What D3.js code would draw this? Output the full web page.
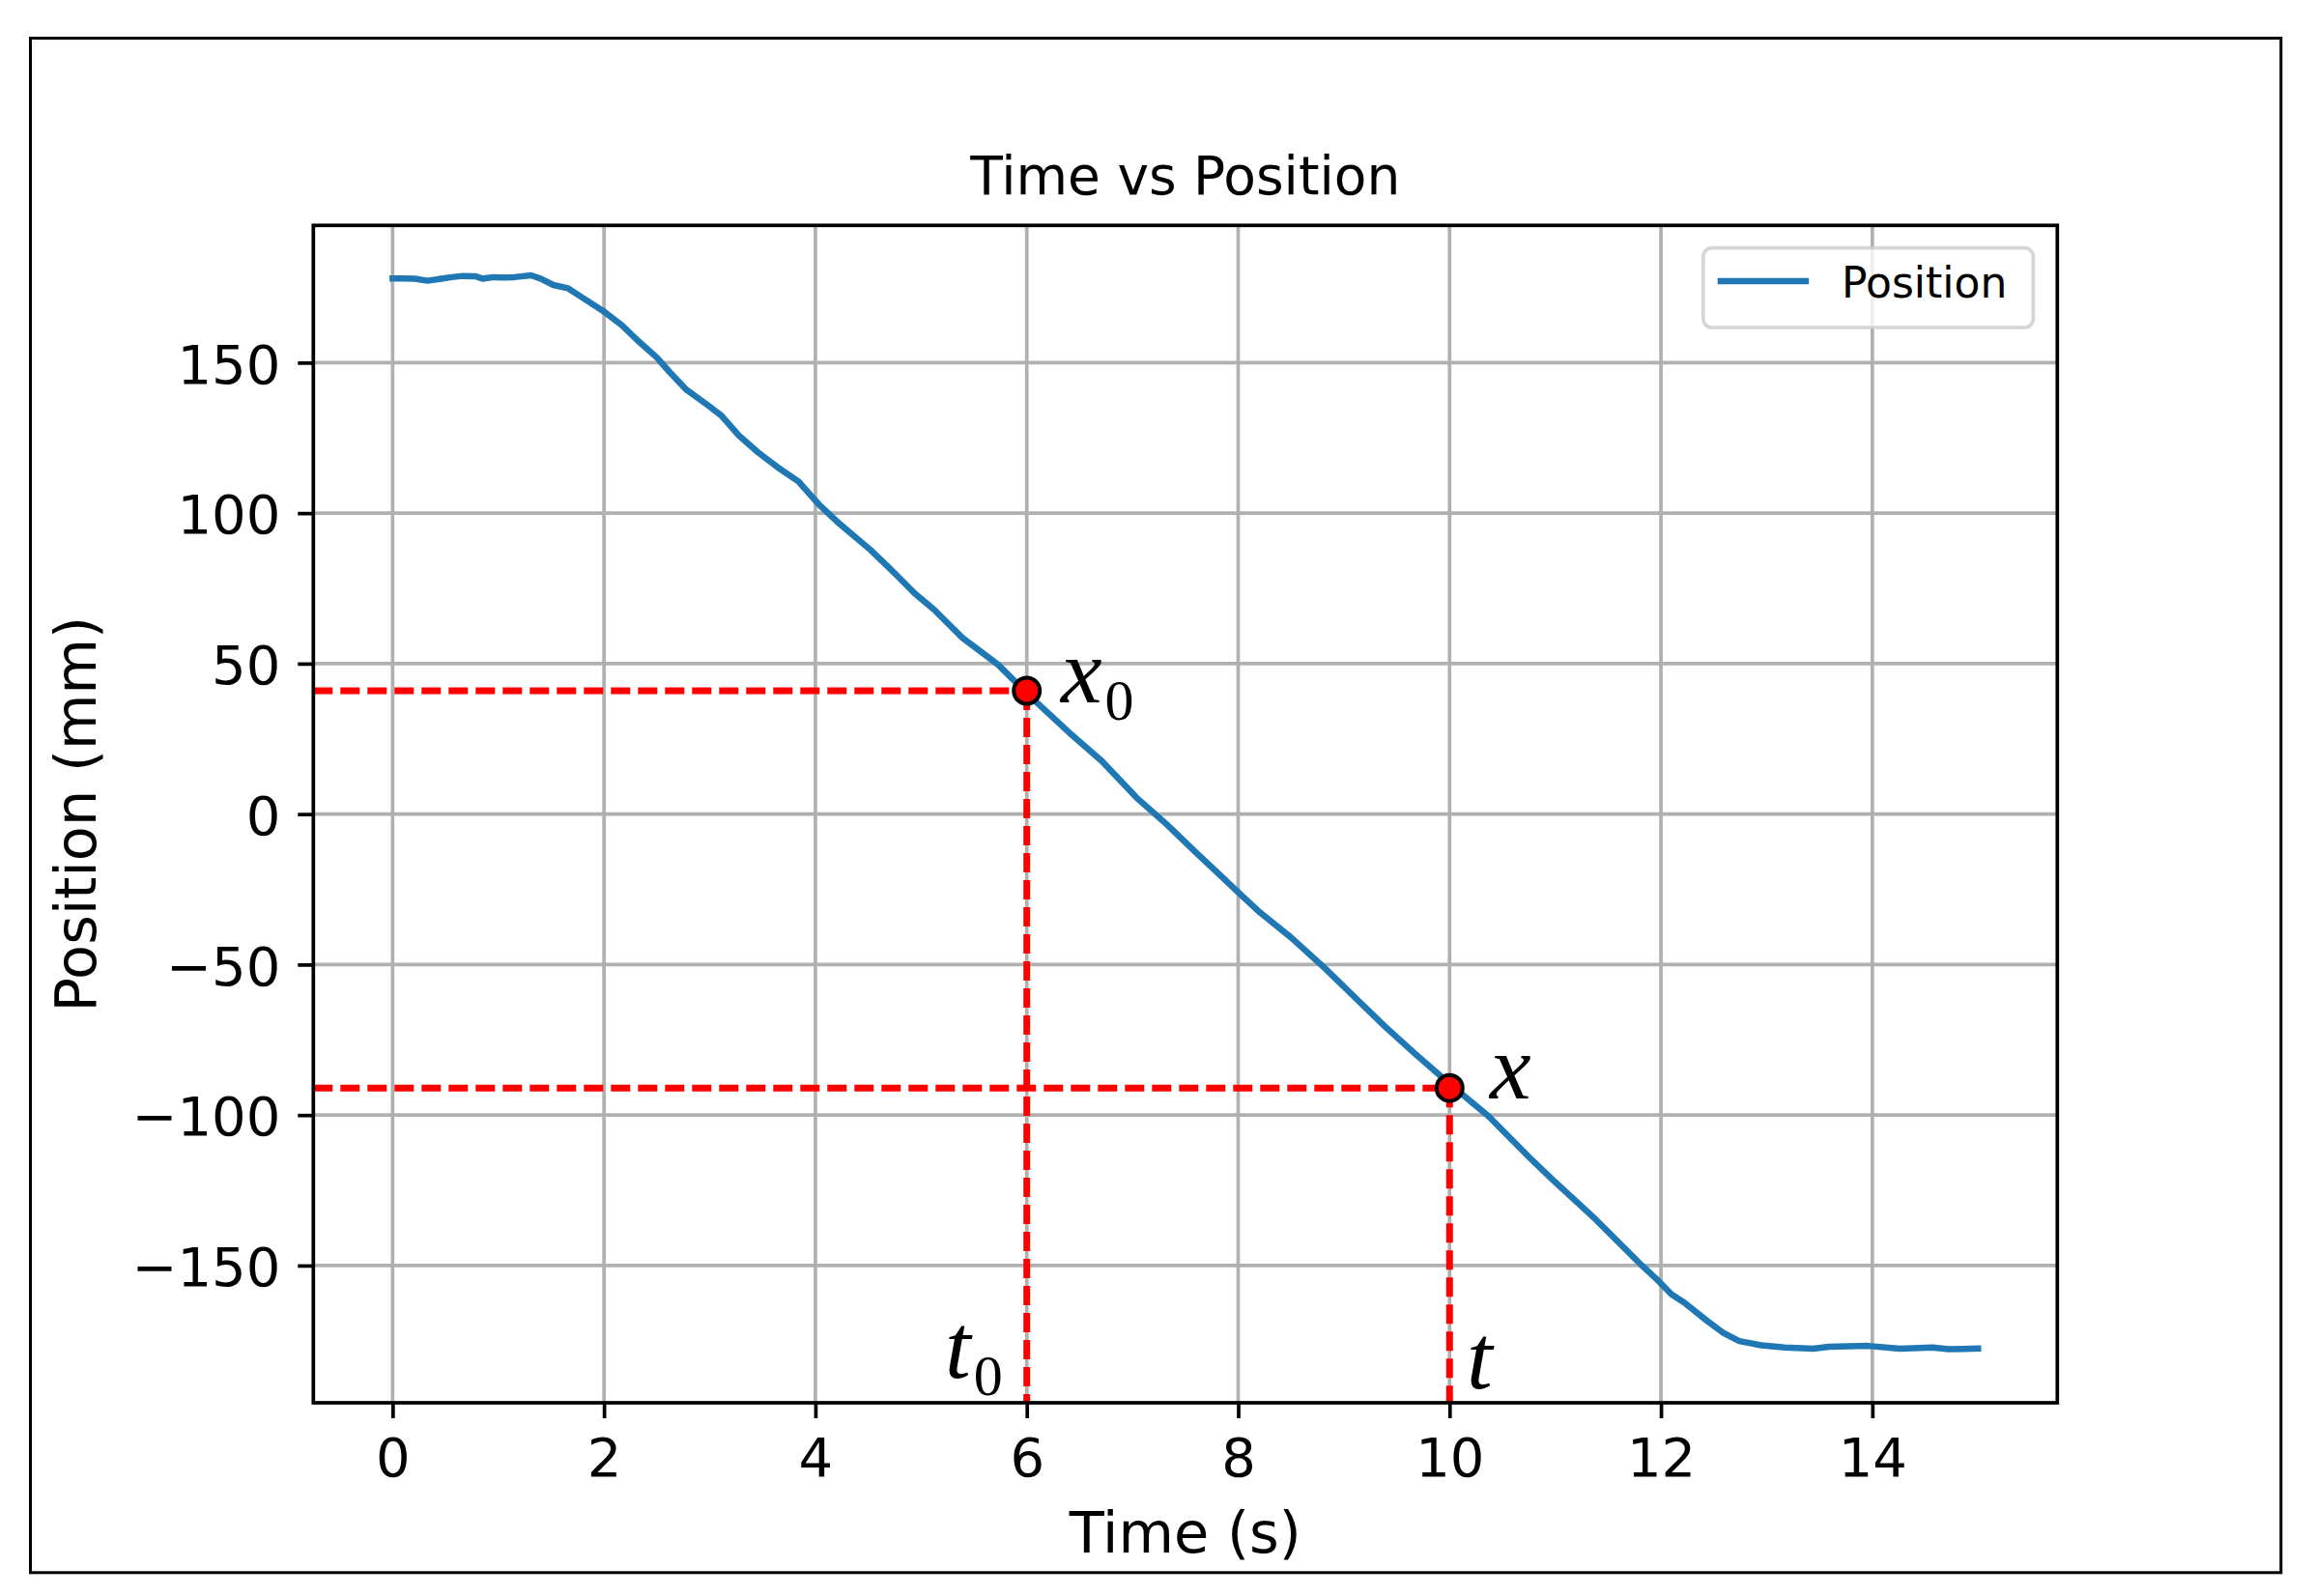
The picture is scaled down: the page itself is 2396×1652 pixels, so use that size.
<!DOCTYPE html>
<html>
<head>
<meta charset="utf-8">
<script src="https://cdn.jsdelivr.net/npm/d3@7"></script>
<style>
  body { margin: 0; background: #ffffff; }
  text { font-family: "DejaVu Sans", sans-serif; fill: #000000; }
  .math { font-family: "Liberation Serif", "DejaVu Serif", serif; font-style: italic; }
  .math.sub { font-style: normal; }
</style>
</head>
<body>
<div id="chart"></div>
<script>

// position trace (time in s, position in mm)
var times = [0.00, 0.10, 0.21, 0.33, 0.46, 0.56, 0.66, 0.78, 0.85, 0.95, 1.05, 1.15, 1.31, 1.40, 1.52, 1.66, 1.80,
    2.01, 2.17, 2.33, 2.50, 2.62, 2.78, 2.95, 3.11, 3.27, 3.46, 3.64, 3.84, 4.03, 4.23, 4.52, 4.68, 4.79, 4.94,
    5.12, 5.39, 5.73, 6.02, 6.43, 6.71, 7.04, 7.32, 7.61, 8.02, 8.21, 8.50, 8.82, 9.11, 9.39, 9.67, 10.00,
    10.37, 10.75, 10.97, 11.38, 11.82, 11.95, 12.10, 12.22, 12.43, 12.59, 12.74, 12.95, 13.17, 13.44, 13.59,
    13.96, 14.26, 14.57, 14.72, 15.00];
var positions = [178.0, 178.0, 177.9, 177.2, 177.9, 178.4, 178.8, 178.7, 177.9, 178.4, 178.3, 178.4, 179.0, 177.9, 175.8, 174.7, 171.5,
    166.7, 162.4, 157.0, 151.7, 146.9, 141.0, 136.7, 132.4, 126.0, 120.1, 115.3, 110.5, 103.0, 96.4, 87.8, 82.4, 78.6, 73.3,
    68.0, 58.6, 49.6, 39.5, 26.2, 17.6, 5.4, -3.3, -13.1, -26.6, -32.8, -41.0, -51.2, -61.1, -70.6, -79.5, -89.6,
    -100.4, -113.9, -121.3, -134.6, -150.0, -154.2, -159.6, -162.3, -168.2, -172.4, -175.1, -176.5, -177.2, -177.6, -177.0,
    -176.7, -177.6, -177.2, -177.8, -177.6];

// the two marked points
var markTimes = [6, 10];
var markPositions = [41, -91];
var timeLabels = ["t", "t"];
var timeSubs = ["0", ""];
var posLabels = ["x", "x"];
var posSubs = ["0", ""];

var xTicks = [0, 2, 4, 6, 8, 10, 12, 14];
var yTicks = [-150, -100, -50, 0, 50, 100, 150];
var xDomain = [-0.75, 15.75];
var yDomain = [-195.6, 195.6];

var totalWidth = 2396;
var totalHeight = 1652;
var margin = { left: 324.3, top: 233.3, right: 2396 - 2129.3, bottom: 1652 - 1452 };
var width = totalWidth - margin.left - margin.right;
var height = totalHeight - margin.top - margin.bottom;

var x = d3.scaleLinear().domain(xDomain).range([0, width]);
var y = d3.scaleLinear().domain(yDomain).range([height, 0]);

var svg0 = d3.select('#chart')
    .append('svg')
        .attr('width', totalWidth)
        .attr('height', totalHeight)
        .attr('style', 'background-color: #ffffff; display:block;');

// outer frame around the figure
svg0.append('rect')
    .attr('x', 31.5).attr('y', 39.5)
    .attr('width', 2360.8 - 31.5).attr('height', 1627.8 - 39.5)
    .attr('fill', 'none').attr('stroke', '#000').attr('stroke-width', 3);

var svg = svg0.append('g')
    .attr('transform', 'translate(' + margin.left + ',' + margin.top + ')');

// grid
svg.append('g').selectAll('line').data(xTicks).enter().append('line')
    .attr('x1', function(d){ return x(d) }).attr('x2', function(d){ return x(d) })
    .attr('y1', 0).attr('y2', height)
    .attr('stroke', '#b0b0b0').attr('stroke-width', 3.7);
svg.append('g').selectAll('line').data(yTicks).enter().append('line')
    .attr('y1', function(d){ return y(d) }).attr('y2', function(d){ return y(d) })
    .attr('x1', 0).attr('x2', width)
    .attr('stroke', '#b0b0b0').attr('stroke-width', 3.7);

// position line
var line = d3.line()
    .x(function(d, i){ return x(times[i]) })
    .y(function(d){ return y(d) });
svg.append('path')
    .datum(positions)
    .attr('d', line)
    .attr('fill', 'none')
    .attr('stroke', '#1f77b4')
    .attr('stroke-width', 6.5)
    .attr('stroke-linejoin', 'round')
    .attr('stroke-linecap', 'square');

// red dashed guides from each point to the axes
markTimes.forEach(function(t, i){
    svg.append('line')
        .attr('x1', 0).attr('x2', x(t))
        .attr('y1', y(markPositions[i])).attr('y2', y(markPositions[i]))
        .attr('stroke', '#ff0000').attr('stroke-width', 7).attr('stroke-dasharray', '20,8');
    svg.append('line')
        .attr('x1', x(t)).attr('x2', x(t))
        .attr('y1', y(markPositions[i])).attr('y2', height)
        .attr('stroke', '#ff0000').attr('stroke-width', 7).attr('stroke-dasharray', '20,8');
});

// axes
var xAxis = d3.axisBottom(x).tickValues(xTicks).tickSize(16).tickPadding(20)
    .tickFormat(function(d){ return String(d) });
var yAxis = d3.axisLeft(y).tickValues(yTicks).tickSize(16).tickPadding(18)
    .tickFormat(function(d){ return d < 0 ? '\u2212' + Math.abs(d) : String(d) });

var gx = svg.append('g')
    .attr('transform', 'translate(0,' + height + ')')
    .call(xAxis);
var gy = svg.append('g').call(yAxis);

[gx, gy].forEach(function(g){
    g.select('.domain').remove();
    g.selectAll('.tick line').attr('stroke', '#000').attr('stroke-width', 3.7);
    g.selectAll('.tick text')
        .attr('font-family', '"DejaVu Sans", sans-serif')
        .attr('font-size', 56)
        .attr('fill', '#000');
});
gy.selectAll('.tick text').attr('dy', '0.37em');

// spines
svg.append('rect')
    .attr('width', width).attr('height', height)
    .attr('fill', 'none').attr('stroke', '#000').attr('stroke-width', 3.7);

// markers
svg.selectAll('circle.mark').data(markTimes).enter().append('circle')
    .attr('class', 'mark')
    .attr('cx', function(d){ return x(d) })
    .attr('cy', function(d, i){ return y(markPositions[i]) })
    .attr('r', 13.5)
    .attr('fill', '#ff0000')
    .attr('stroke', '#000')
    .attr('stroke-width', 4);

// math labels next to the points and on the time axis
var posLabelAt = [[1098, 727, 745], [1542, 1137, 1137]];
var timeLabelAt = [[978, 1426, 1444], [1518, 1437, 1437]];

function mathLabel(base, sub, at) {
    var t = svg0.append('text').attr('class', 'math')
        .attr('x', at[0]).attr('y', at[1])
        .attr('font-size', 96)
        .text(base);
    if (sub) {
        var w = t.node().getComputedTextLength();
        svg0.append('text').attr('class', 'math sub')
            .attr('x', at[0] + w + 3).attr('y', at[2])
            .attr('font-size', 60)
            .text(sub);
    }
}
posLabels.forEach(function(l, i){ mathLabel(l, posSubs[i], posLabelAt[i]) });
timeLabels.forEach(function(l, i){ mathLabel(l, timeSubs[i], timeLabelAt[i]) });

// legend
var lg = svg0.append('g');
lg.append('rect')
    .attr('x', 1762.8).attr('y', 256.7)
    .attr('width', 2104.4 - 1762.8).attr('height', 339 - 256.7)
    .attr('rx', 9).attr('ry', 9)
    .attr('fill', 'rgba(255,255,255,0.8)')
    .attr('stroke', 'rgba(204,204,204,0.8)').attr('stroke-width', 3.7);
lg.append('line')
    .attr('x1', 1777.7).attr('x2', 1872.2).attr('y1', 291).attr('y2', 291)
    .attr('stroke', '#1f77b4').attr('stroke-width', 6.5);
lg.append('text')
    .attr('x', 1906).attr('y', 308)
    .attr('font-size', 44)
    .text('Position');

// title and axis labels
svg0.append('text')
    .attr('x', margin.left + width / 2).attr('y', 201)
    .attr('text-anchor', 'middle')
    .attr('font-size', 55)
    .text('Time vs Position');
svg0.append('text')
    .attr('x', margin.left + width / 2).attr('y', 1607)
    .attr('text-anchor', 'middle')
    .attr('font-size', 59)
    .text('Time (s)');
svg0.append('text')
    .attr('transform', 'translate(99,' + (margin.top + height / 2) + ') rotate(-90)')
    .attr('text-anchor', 'middle')
    .attr('font-size', 59)
    .text('Position (mm)');

</script>
</body>
</html>
